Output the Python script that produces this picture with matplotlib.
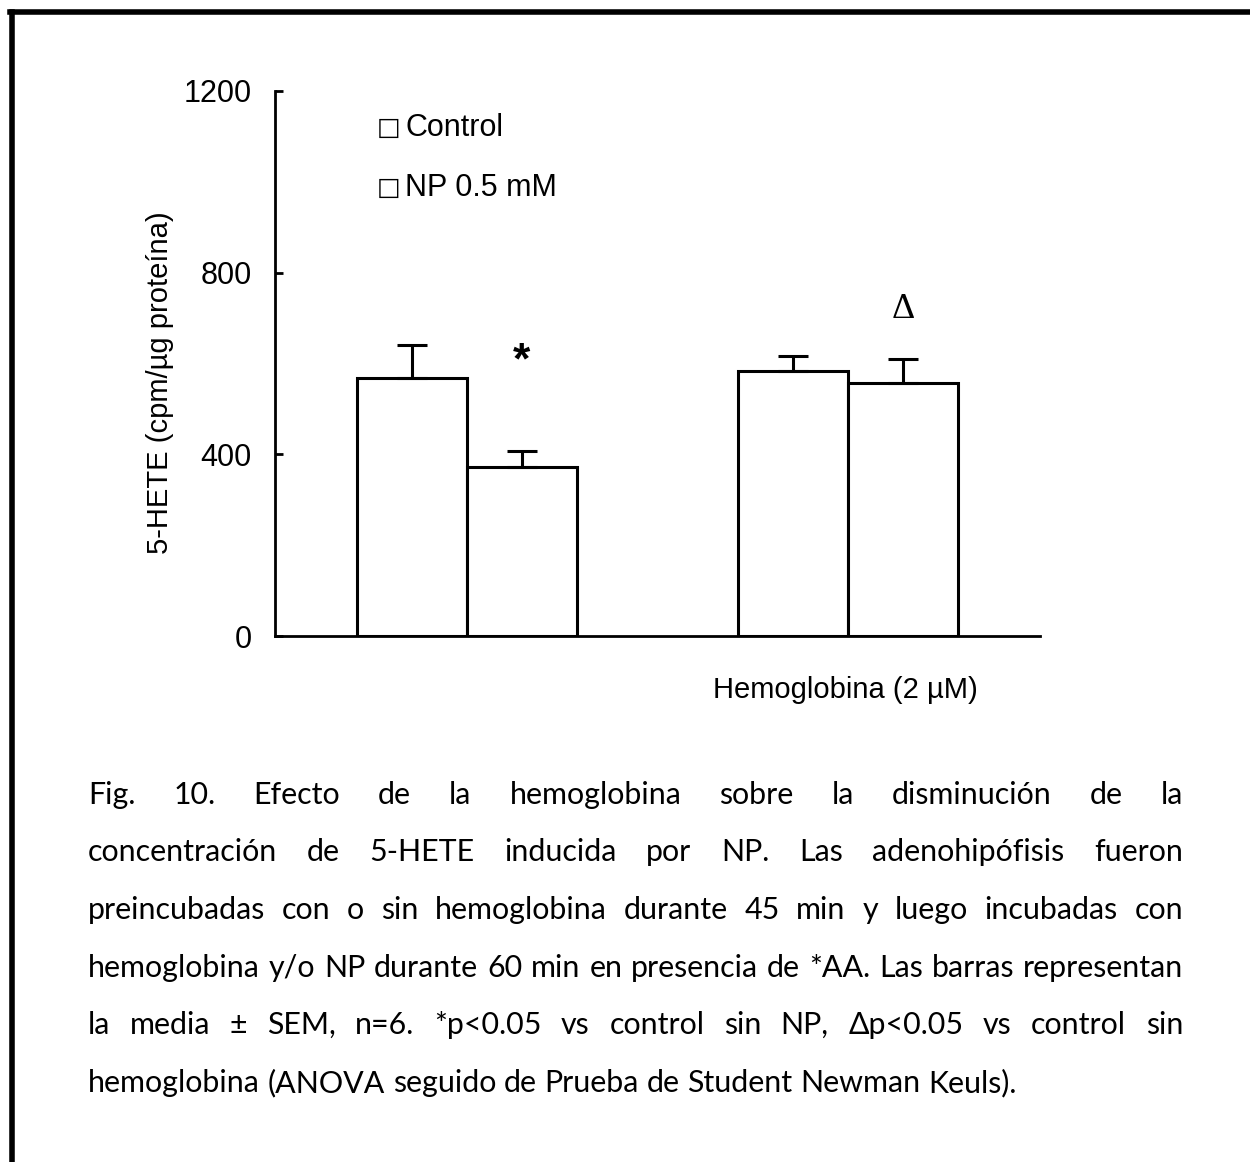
import matplotlib
matplotlib.use("Agg")
import matplotlib.pyplot as plt
from matplotlib.lines import Line2D

# ---- data ----
groups = ["Sin hemoglobina", "Hemoglobina (2 \u00b5M)"]
series = ["Control", "NP 0.5 mM"]
control_mean = [568, 584]
control_sem = [73, 33]
np_mean = [372, 557]
np_sem = [36, 53]
yticks = [0, 400, 800, 1200]
ylabel = "5-HETE (cpm/\u00b5g prote\u00edna)"
xlabel = "Hemoglobina (2 \u00b5M)"
marks = ["*", "\u0394"]

caption_lines = [
    "Fig. 10. Efecto de la hemoglobina sobre la disminuci\u00f3n de la",
    "concentraci\u00f3n de 5-HETE inducida por NP. Las adenohip\u00f3fisis fueron",
    "preincubadas con o sin hemoglobina durante 45 min y luego incubadas con",
    "hemoglobina y/o NP durante 60 min en presencia de *AA. Las barras representan",
    "la media \u00b1 SEM, n=6. *p<0.05 vs control sin NP, \u0394p<0.05 vs control sin",
    "hemoglobina (ANOVA seguido de Prueba de Student Newman Keuls).",
]

W, H = 1250, 1162
fig = plt.figure(figsize=(W / 100, H / 100), dpi=100)
fig.patch.set_facecolor("white")

chart_font = "Liberation Sans"
cap_font = "Lato"

# page frame (top and left edges)
fig.add_artist(Line2D([10 / W, 1.0], [1 - 12 / H, 1 - 12 / H], color="black",
                      lw=4, transform=fig.transFigure))
fig.add_artist(Line2D([12 / W, 12 / W], [0.0, 1 - 12 / H], color="black",
                      lw=4, transform=fig.transFigure))

ax = fig.add_axes([275 / W, 1 - 636 / H, (1040 - 275) / W, (636 - 91) / H])
unit = 110.0
ax.set_xlim(0, 765 / unit)
ax.set_ylim(0, 1200)
group_centers = [1.745, 5.209]
bw = 1.0
lw = 2.2

for gi, gc in enumerate(group_centers):
    for val, sem, off in [(control_mean[gi], control_sem[gi], -0.5),
                          (np_mean[gi], np_sem[gi], 0.5)]:
        x = gc + off
        ax.bar(x, val, width=bw, facecolor="white", edgecolor="black",
               linewidth=lw, zorder=2)
        ax.errorbar(x, val, yerr=[[0], [sem]], fmt="none", ecolor="black",
                    elinewidth=lw, capsize=11, capthick=lw, zorder=3)

# significance marks
ax.text(group_centers[0] + 0.5, np_mean[0] + np_sem[0] + 195, marks[0],
        ha="center", va="center", fontsize=32, fontweight="bold",
        family=chart_font)
ax.text(group_centers[1] + 0.5, np_mean[1] + np_sem[1] + 110, marks[1],
        ha="center", va="center", fontsize=26, family="Liberation Serif")

for s in ["top", "right"]:
    ax.spines[s].set_visible(False)
ax.spines["left"].set_linewidth(2)
ax.spines["bottom"].set_linewidth(2)
ax.set_xticks([])
ax.set_yticks(yticks)
ax.set_yticklabels([str(t) for t in yticks], fontsize=22, family=chart_font)
ax.tick_params(axis="y", direction="in", length=6, width=2, pad=17)

# legend drawn as text entries
for i, name in enumerate(series):
    yy = [0.932, 0.822][i]
    ax.text(0.133, yy, "\u25a1", transform=ax.transAxes, ha="left",
            va="center", fontsize=18, fontweight="bold", family="DejaVu Sans")
    ax.text(0.170, yy, name, transform=ax.transAxes, ha="left",
            va="center", fontsize=22, family=chart_font)

fig.text(845 / W, 1 - 690 / H, xlabel, ha="center", va="center",
         fontsize=21, family=chart_font)
fig.text(160 / W, 1 - 383 / H, ylabel, ha="center", va="center",
         rotation=90, fontsize=21, family=chart_font)

# justified caption
renderer = fig.canvas.get_renderer()
x0, x1 = 88, 1183
line_y = [795, 852, 910, 968, 1025, 1083]
probe = fig.text(0, 0, caption_lines[-1], fontsize=20, family=cap_font)
target = 1017 - 88
cap_fs = 20 * target / probe.get_window_extent(renderer).width
probe.remove()
space = fig.text(0, 0, "a a", fontsize=cap_fs, family=cap_font)
sp_w = space.get_window_extent(renderer).width
aa = fig.text(0, 0, "aa", fontsize=cap_fs, family=cap_font)
sp_w -= aa.get_window_extent(renderer).width
space.remove()
aa.remove()

for i, line in enumerate(caption_lines):
    words = line.split()
    yy = 1 - line_y[i] / H
    texts = [fig.text(0, yy, w, fontsize=cap_fs, family=cap_font, va="center",
                      ha="left") for w in words]
    widths = [t.get_window_extent(renderer).width for t in texts]
    if i < len(caption_lines) - 1:
        gap = (x1 - x0 - sum(widths)) / (len(words) - 1)
    else:
        gap = sp_w
    x = x0
    for t, wdt in zip(texts, widths):
        t.set_x(x / W)
        x += wdt + gap

fig.savefig("out.png", dpi=100, facecolor="white")
